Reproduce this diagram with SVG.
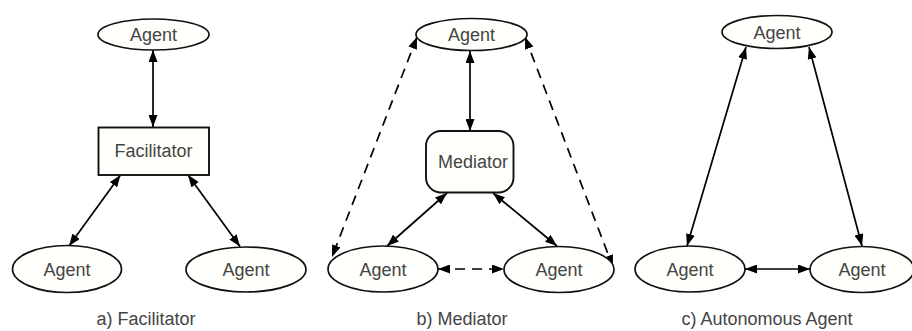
<svg xmlns="http://www.w3.org/2000/svg" width="912" height="331" viewBox="0 0 912 331">
  <defs>
    <marker id="head" viewBox="0 0 12 9" refX="12" refY="4.5" markerWidth="12" markerHeight="9" markerUnits="userSpaceOnUse" orient="auto-start-reverse">
      <path d="M0,0 L12,4.5 L0,9 z" fill="#000"/>
    </marker>
    <style>
      .agent { fill: #fffffb; stroke: #111; stroke-width: 1.7; }
      .box { fill: #fffffb; stroke: #111; stroke-width: 1.9; }
      .label { font-family: "Liberation Sans", Arial, sans-serif; font-size: 18px; fill: #444; text-anchor: middle; }
      .link { stroke: #000; stroke-width: 1.7; fill: none; marker-start: url(#head); marker-end: url(#head); }
      .dash { stroke-dasharray: 10 7; }
    </style>
  </defs>
  <rect width="912" height="331" fill="#fff"/>

  <!-- connectors -->
  <g id="connectors">
    <!-- a) facilitator -->
    <line class="link" x1="153" y1="50" x2="153" y2="127"/>
    <line class="link" x1="120.5" y1="175" x2="69" y2="246"/>
    <line class="link" x1="188" y1="175" x2="240" y2="246.5"/>
    <!-- b) mediator -->
    <line class="link" x1="470" y1="51" x2="470" y2="131"/>
    <line class="link" x1="447" y1="193" x2="387" y2="246"/>
    <line class="link" x1="493" y1="193" x2="557" y2="246"/>
    <line class="link dash" x1="417" y1="37" x2="332" y2="257"/>
    <line class="link dash" x1="525" y1="37" x2="613" y2="267"/>
    <line class="link dash" x1="438" y1="269" x2="504" y2="269"/>
    <!-- c) autonomous agents -->
    <line class="link" x1="746" y1="47" x2="687" y2="246"/>
    <line class="link" x1="809" y1="47" x2="862" y2="246"/>
    <line class="link" x1="745" y1="269" x2="810" y2="269"/>
  </g>

  <!-- a) facilitator -->
  <g id="a-agent-top">
    <ellipse class="agent" cx="153.5" cy="34.5" rx="55.5" ry="15.5"/>
    <text class="label" x="153.5" y="40.5">Agent</text>
  </g>
  <g id="a-facilitator">
    <rect class="box" x="98.5" y="127.5" width="110.5" height="47.5"/>
    <text class="label" x="153.5" y="157">Facilitator</text>
  </g>
  <g id="a-agent-left">
    <ellipse class="agent" cx="67" cy="269" rx="54.5" ry="23.5"/>
    <text class="label" x="67" y="275.5">Agent</text>
  </g>
  <g id="a-agent-right">
    <ellipse class="agent" cx="246" cy="269.5" rx="60" ry="22.5"/>
    <text class="label" x="246" y="276">Agent</text>
  </g>
  <text class="label" x="146" y="324.5">a) Facilitator</text>

  <!-- b) mediator -->
  <g id="b-agent-top">
    <ellipse class="agent" cx="471.5" cy="34.5" rx="55.5" ry="16"/>
    <text class="label" x="471.5" y="40.5">Agent</text>
  </g>
  <g id="b-mediator">
    <rect class="box" x="426" y="131" width="87.5" height="61.5" rx="15" ry="15"/>
    <text class="label" x="473" y="168">Mediator</text>
  </g>
  <g id="b-agent-left">
    <ellipse class="agent" cx="383" cy="269" rx="55" ry="23"/>
    <text class="label" x="383" y="275.5">Agent</text>
  </g>
  <g id="b-agent-right">
    <ellipse class="agent" cx="559" cy="269.5" rx="55" ry="23"/>
    <text class="label" x="559" y="276">Agent</text>
  </g>
  <text class="label" x="462" y="324.5">b) Mediator</text>

  <!-- c) autonomous agents -->
  <g id="c-agent-top">
    <ellipse class="agent" cx="777" cy="32" rx="55" ry="16.5"/>
    <text class="label" x="777" y="38.5">Agent</text>
  </g>
  <g id="c-agent-left">
    <ellipse class="agent" cx="690" cy="269" rx="55" ry="23"/>
    <text class="label" x="690" y="275.5">Agent</text>
  </g>
  <g id="c-agent-right">
    <ellipse class="agent" cx="862" cy="269.5" rx="52" ry="23"/>
    <text class="label" x="862" y="276">Agent</text>
  </g>
  <text class="label" x="767" y="324.5">c) Autonomous Agent</text>
</svg>
